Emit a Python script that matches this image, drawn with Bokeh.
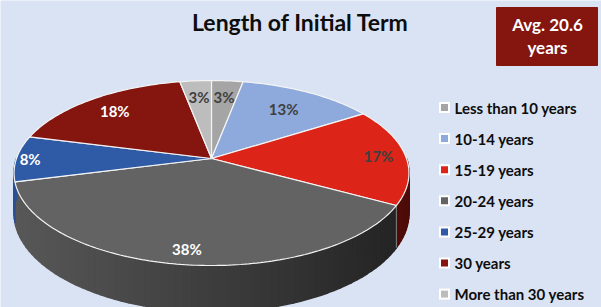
import numpy as np
from bokeh.plotting import figure
from bokeh.models import Range1d
from bokeh.core.properties import value
from bokeh.embed import file_html
from bokeh.resources import INLINE

# ---------------- data ----------------
title_text = "Length of Initial Term"
categories = ["Less than 10 years", "10-14 years", "15-19 years", "20-24 years",
              "25-29 years", "30 years", "More than 30 years"]
shares = [3, 13, 17, 38, 8, 18, 3]
avg_lines = ["Avg. 20.6", "years"]

# ---------------- styles ----------------
BG = "#dae3f3"
colors = ["#a5a5a5", "#8eaadc", "#dc2418", "#636363", "#2f5aa5", "#84150f", "#bdbdbd"]
label_colors = ["#404040", "#404040", "#404040", "#ffffff", "#ffffff", "#ffffff", "#404040"]
label_r = [0.76, 0.72, 0.86, 0.87, 0.93, 0.79, 0.76]
FONT = value("Lato")

# pie geometry (pixel space of the picture)
CX, CY = 211.0, 158.0
A, B, K, DEPTH = 195.0, 90.2, 0.157, 39.0


def proj(theta_deg, r=1.0, depth=0.0):
    t = np.radians(theta_deg)
    X = r * np.sin(t)
    Y = -r * np.cos(t)
    d = 1 - K * Y
    return CX + A * X / d, CY + (B * Y + DEPTH * depth) / d


def hex2rgb(h):
    h = h.lstrip("#")
    return [int(h[i:i + 2], 16) for i in (0, 2, 4)]


def shade(h, f):
    r, g, b = hex2rgb(h)
    return "#%02x%02x%02x" % tuple(max(0, min(255, int(c * f))) for c in (r, g, b))


W, H = 601, 307
p = figure(width=W, height=H, x_range=Range1d(0, W), y_range=Range1d(H, 0),
           output_backend="svg", toolbar_location=None, min_border=0,
           x_axis_location=None, y_axis_location=None)
p.grid.visible = False
p.outline_line_color = None
p.background_fill_color = BG
p.border_fill_color = BG

total = float(sum(shares))
bounds = np.concatenate([[0.0], np.cumsum(shares) / total * 360.0])

# ---------------- side walls ----------------
sx, sy, sc = [], [], []
for i in range(len(shares)):
    a0, a1 = bounds[i], bounds[i + 1]
    lo, hi = max(a0, 90.0), min(a1, 270.0)
    if hi <= lo:
        continue
    n = max(2, int((hi - lo) / 2.0) + 1)
    ts = np.linspace(lo, hi, n)
    for j in range(n - 1):
        t0, t1 = ts[j], ts[j + 1]
        x0, y0 = proj(t0)
        x1, y1 = proj(t1)
        x2, y2 = proj(t1, depth=1)
        x3, y3 = proj(t0, depth=1)
        xm = (x0 + x1) / 2
        f = 0.89 - (xm - 16) / (395 - 16) * 0.52
        sx.append([x0, x1, x2, x3])
        sy.append([y0, y1, y2, y3])
        sc.append(shade(colors[i], f))
p.patches(sx, sy, fill_color=sc, line_color=sc, line_width=1.6, line_join="round")

# edge between red and gray walls
ex, ey = proj(bounds[3])
ex2, ey2 = proj(bounds[3], depth=1)
p.line([ex, ex2], [ey, ey2], line_color="#9a9a9a", line_width=0.8)

# ---------------- top face ----------------
tx, ty = [], []
for i in range(len(shares)):
    ts = np.linspace(bounds[i], bounds[i + 1], max(3, int(shares[i] * 3.6) + 2))
    xs, ys = proj(ts)
    tx.append([CX] + list(xs))
    ty.append([CY] + list(ys))
p.patches(tx, ty, fill_color=colors, line_color="#f4f4f4", line_width=1.2)

# ---------------- data labels ----------------
lx, ly = [], []
for i in range(len(shares)):
    mid = (bounds[i] + bounds[i + 1]) / 2
    x, y = proj(mid, r=label_r[i])
    lx.append(float(x))
    ly.append(float(y))
p.text(x=lx, y=ly, text=["%d%%" % s for s in shares], text_color=label_colors,
       text_font=FONT, text_font_style="bold", text_font_size="15px",
       text_align="center", text_baseline="middle")

# ---------------- title ----------------
p.text(x=[300], y=[21], text=[title_text], text_color="#0d0d0d", text_font=FONT,
       text_font_style="bold", text_font_size="23px", text_align="center",
       text_baseline="middle")

# ---------------- average box ----------------
p.quad(left=[496], right=[597], top=[7], bottom=[65], fill_color="#84150f",
       line_color="#84150f")
p.text(x=[547, 547], y=[24, 47], text=avg_lines, text_color="white", text_font=FONT,
       text_font_style="bold", text_font_size="17px", text_align="center",
       text_baseline="middle")

# ---------------- legend ----------------
leg_y = [107 + 31.1 * i for i in range(len(categories))]
p.scatter(x=[444] * len(categories), y=leg_y, marker="square", size=11,
          fill_color="white", line_color=None)
p.scatter(x=[444] * len(categories), y=leg_y, marker="square", size=7,
          fill_color=colors, line_color=None)
p.text(x=[454] * len(categories), y=leg_y, text=categories, text_color="#0d0d0d",
       text_font=FONT, text_font_style="bold", text_font_size="15px",
       text_align="left", text_baseline="middle")

html = file_html(p, INLINE)
html = html.replace("<body>", '<body style="background-color:%s;">' % BG, 1)
open("out.html", "w").write(html)
